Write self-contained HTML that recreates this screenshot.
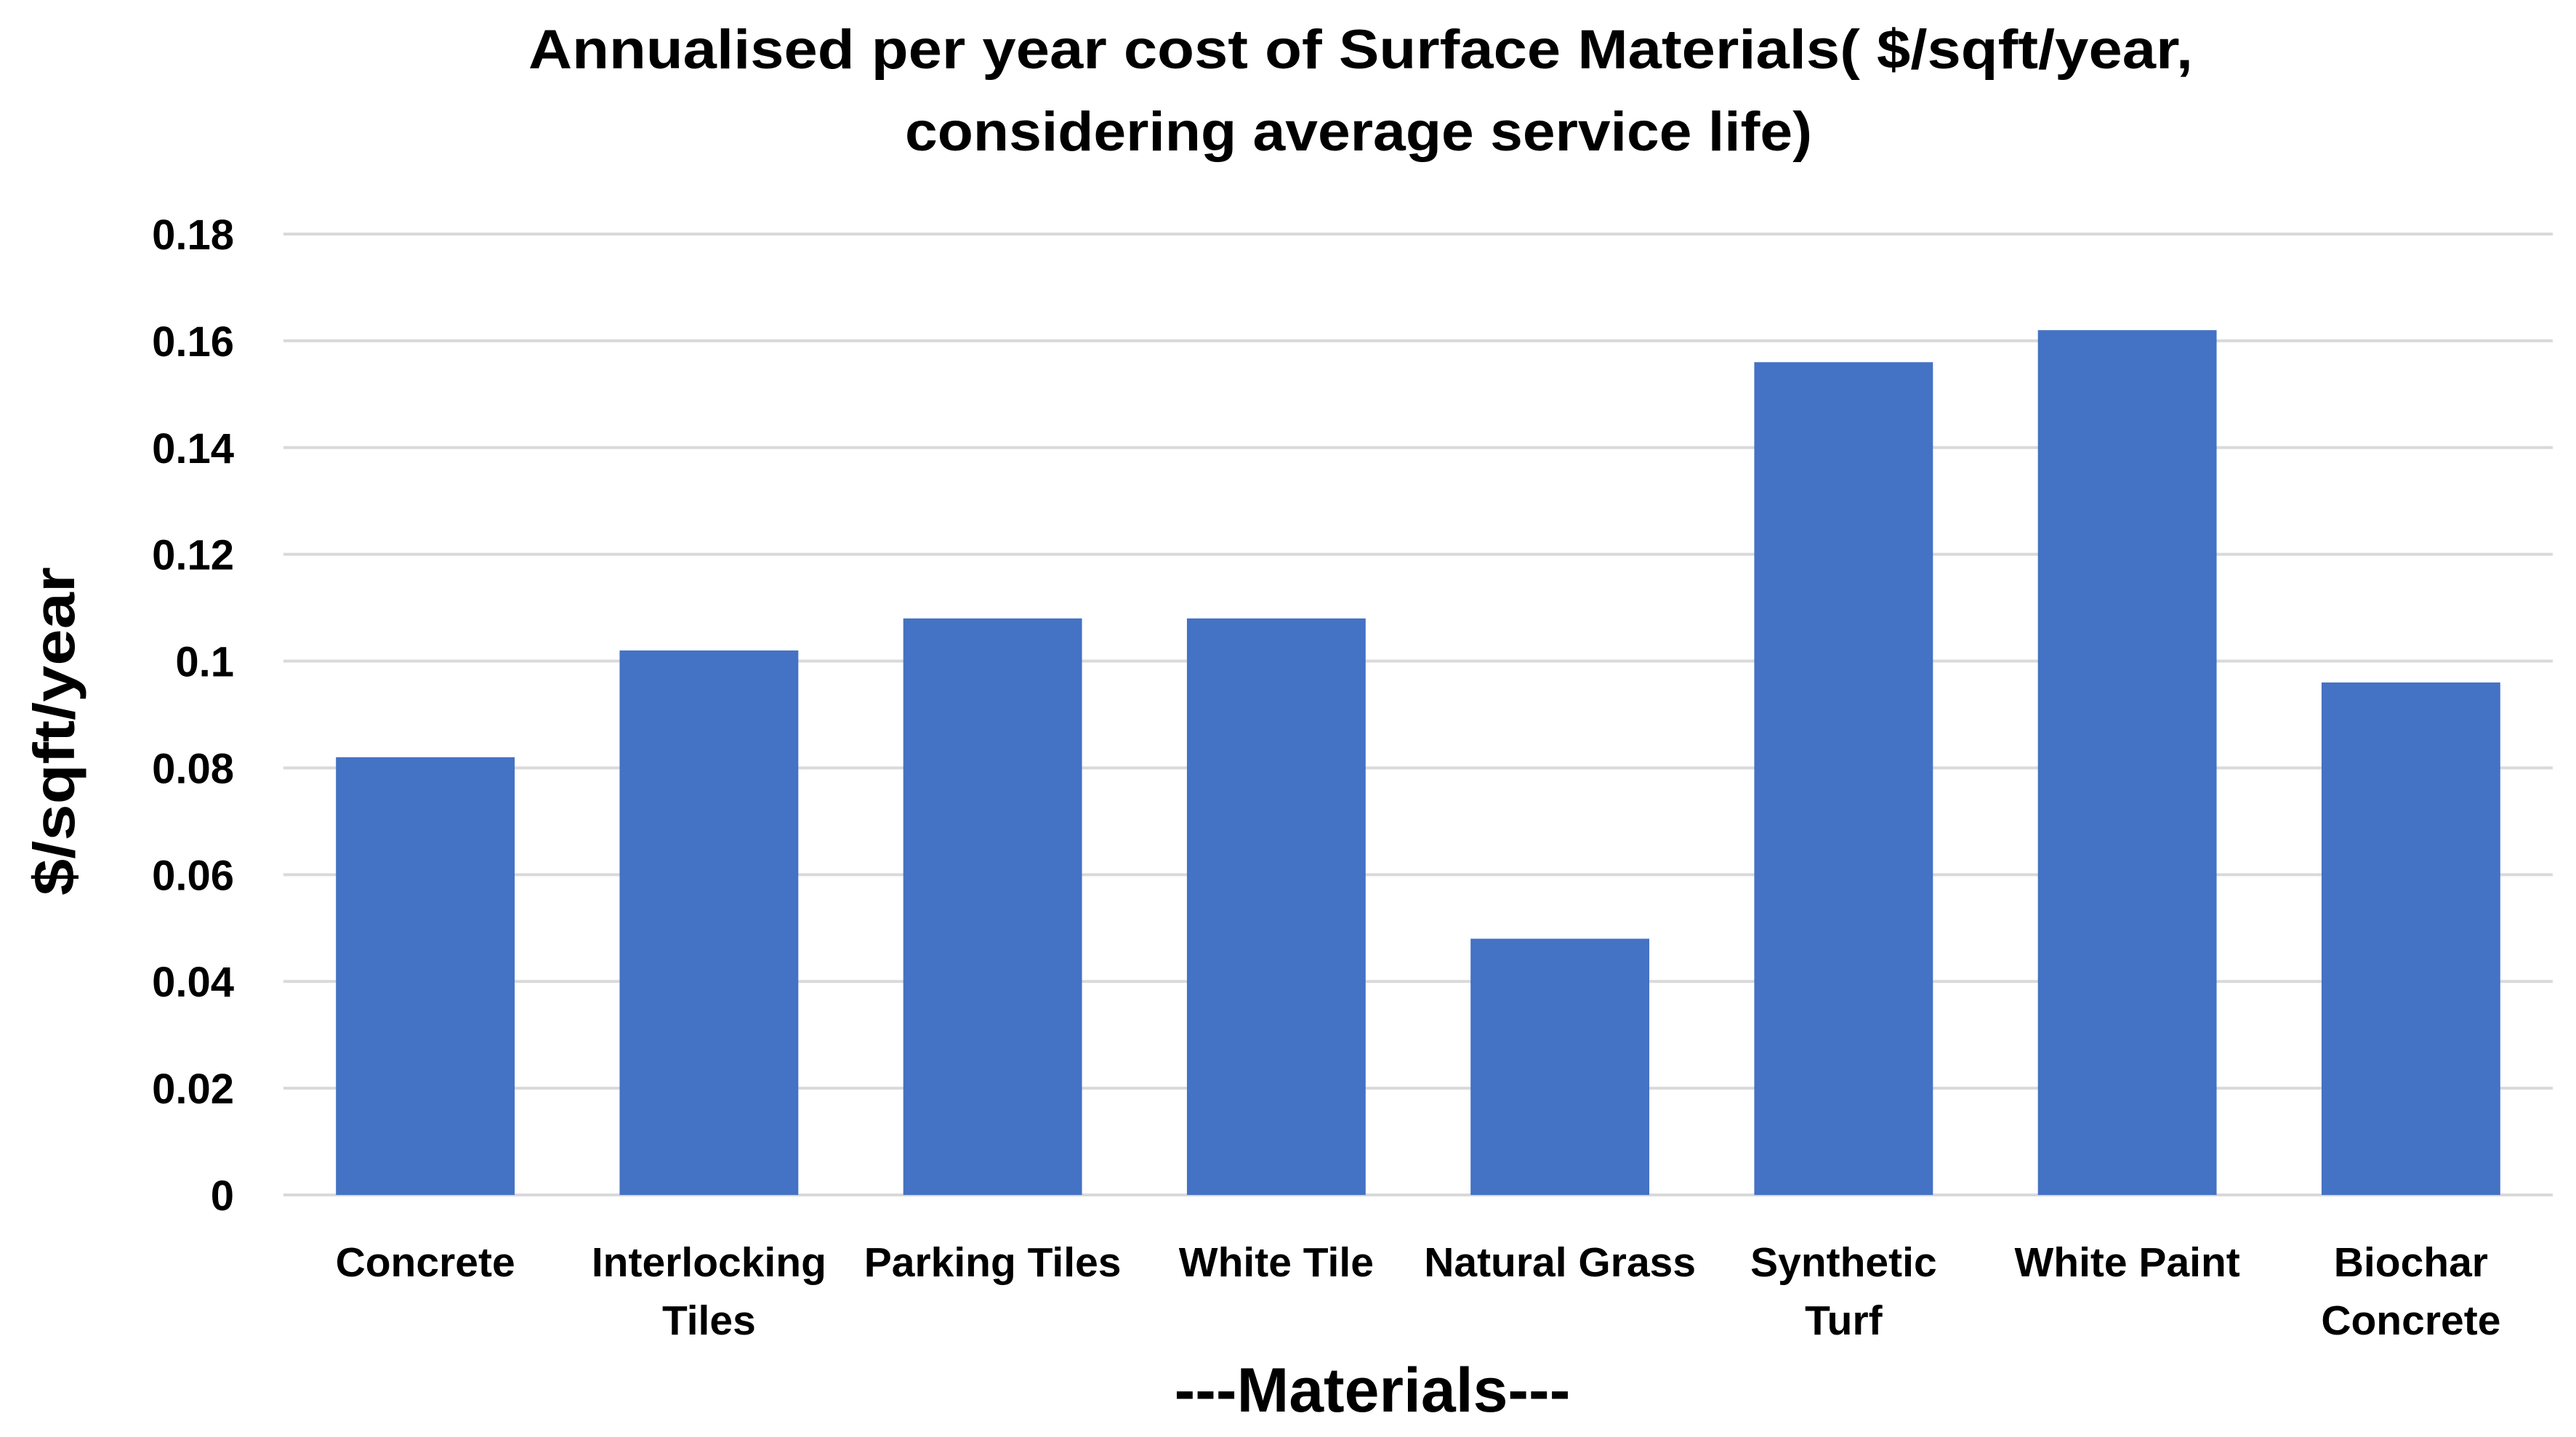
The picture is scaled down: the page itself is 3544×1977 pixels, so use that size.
<!DOCTYPE html>
<html><head><meta charset="utf-8"><style>
html,body{margin:0;padding:0;background:#fff;}
svg{display:block;font-family:"Liberation Sans",Arial,sans-serif;font-weight:bold;}
</style></head><body>
<svg id="chart" width="3544" height="1977" viewBox="0 0 3544 1977">
<text x="1872" y="94" text-anchor="middle" font-size="76" fill="#000" textLength="2290" lengthAdjust="spacingAndGlyphs">Annualised per year cost of Surface Materials( $/sqft/year,</text>
<text x="1869" y="207" text-anchor="middle" font-size="76" fill="#000" textLength="1248" lengthAdjust="spacingAndGlyphs">considering average service life)</text>
<g id="grid"></g>
<g id="yticks"></g>
<g id="bars"></g>
<g id="xlabels"></g>
<text x="0" y="0" transform="translate(102,1006) rotate(-90)" text-anchor="middle" font-size="80" fill="#000" textLength="452" lengthAdjust="spacingAndGlyphs">$/sqft/year</text>
<text x="1888" y="1942" text-anchor="middle" font-size="86" fill="#000">---Materials---</text>
</svg>
<script>
const categories = [["Concrete"],["Interlocking","Tiles"],["Parking Tiles"],["White Tile"],["Natural Grass"],["Synthetic","Turf"],["White Paint"],["Biochar","Concrete"]];
const values = [0.082,0.102,0.108,0.108,0.048,0.156,0.162,0.096];
const tickValues = [0,0.02,0.04,0.06,0.08,0.1,0.12,0.14,0.16,0.18];
const tickLabels = ["0","0.02","0.04","0.06","0.08","0.1","0.12","0.14","0.16","0.18"];

const NS="http://www.w3.org/2000/svg";
const X0=390, X1=3512, Y0=1644, Y1=322, YMAX=0.18;
const y=v=>Y0-(v/YMAX)*(Y0-Y1);
const band=(X1-X0)/categories.length;
const xc=i=>X0+band*(i+0.5);
const bw=band*0.63;
function mk(tag,attrs,parent){const e=document.createElementNS(NS,tag);for(const k in attrs)e.setAttribute(k,attrs[k]);parent.appendChild(e);return e;}
const grid=document.getElementById('grid'),yt=document.getElementById('yticks'),bars=document.getElementById('bars'),xl=document.getElementById('xlabels');
tickValues.forEach((t,i)=>{
  const l=mk('line',{x1:X0,x2:X1,y1:y(t),y2:y(t),stroke:'#d9d9d9','stroke-width':4},grid);
  
  
  const tx=mk('text',{x:322,y:y(t)+21,'text-anchor':'end','font-size':58,fill:'#000'},yt);
  tx.textContent=tickLabels[i];
  
  
});
values.forEach((v,i)=>{
  const r=mk('rect',{x:xc(i)-bw/2,y:y(v),width:bw,height:Y0-y(v),fill:'#4472c4'},bars);
  
  
});
categories.forEach((c,i)=>{
  c.forEach((line,j)=>{
    const t=mk('text',{x:xc(i),y:1756+j*80,'text-anchor':'middle','font-size':57,fill:'#000'},xl);
    t.textContent=line;
    
    
  });
});
</script>
</body></html>
